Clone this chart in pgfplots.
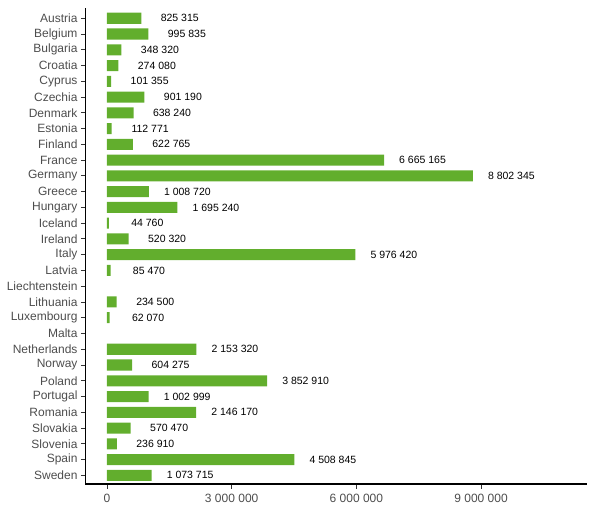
\documentclass[border=0pt]{standalone}
\usepackage{pgfplots}
\pgfplotsset{compat=1.18}
\usepackage{pgfplotstable}
\usepackage{fontspec}
\setmainfont{Liberation Sans}
\definecolor{barg}{RGB}{98,174,45}
\definecolor{axtxt}{RGB}{77,77,77}
\pgfplotstableread[col sep=comma]{
y,x,lab
0,825315,825 315
1,995835,995 835
2,348320,348 320
3,274080,274 080
4,101355,101 355
5,901190,901 190
6,638240,638 240
7,112771,112 771
8,622765,622 765
9,6665165,6 665 165
10,8802345,8 802 345
11,1008720,1 008 720
12,1695240,1 695 240
13,44760,44 760
14,520320,520 320
15,5976420,5 976 420
16,85470,85 470
18,234500,234 500
19,62070,62 070
21,2153320,2 153 320
22,604275,604 275
23,3852910,3 852 910
24,1002999,1 002 999
25,2146170,2 146 170
26,570470,570 470
27,236910,236 910
28,4508845,4 508 845
29,1073715,1 073 715
}\datatable
\begin{document}
\begin{tikzpicture}
\begin{axis}[
  at={(0,0)}, anchor=south west,
  scale only axis,
  width=501.5bp, height=476bp,
  xmin=-517000, xmax=11548000,
  ymin=-0.65, ymax=29.55,
  y dir=reverse,
  axis lines*=left,
  axis line style={line width=1.1bp, black},
  tick align=outside,
  major tick length=4.5bp,
  tick style={line width=0.9bp, black!80},
  scaled x ticks=false,
  xtick={0,3000000,6000000,9000000},
  xticklabels={0,3\ 000\ 000,6\ 000\ 000,9\ 000\ 000},
  xticklabel style={yshift=-2bp},
  ytick={0,...,29},
  yticklabels={Austria,Belgium,Bulgaria,Croatia,Cyprus,Czechia,Denmark,Estonia,Finland,France,Germany,Greece,Hungary,Iceland,Ireland,Italy,Latvia,Liechtenstein,Lithuania,Luxembourg,Malta,Netherlands,Norway,Poland,Portugal,Romania,Slovakia,Slovenia,Spain,Sweden},
  ticklabel style={font=\fontsize{12bp}{14bp}\selectfont, text=axtxt},
  xbar, bar width=0.7,
  point meta=explicit symbolic,
  nodes near coords,
  every node near coord/.append style={anchor=center, xshift=38.5bp, font=\fontsize{10.5bp}{12bp}\selectfont, text=black},
  clip=false,
]
\addplot[fill=barg, draw=none] table[x=x, y=y, meta=lab] {\datatable};
\end{axis}
\pgfresetboundingbox
\path (-85.5bp,-25bp) rectangle (510.5bp,484bp);
\end{tikzpicture}
\end{document}
